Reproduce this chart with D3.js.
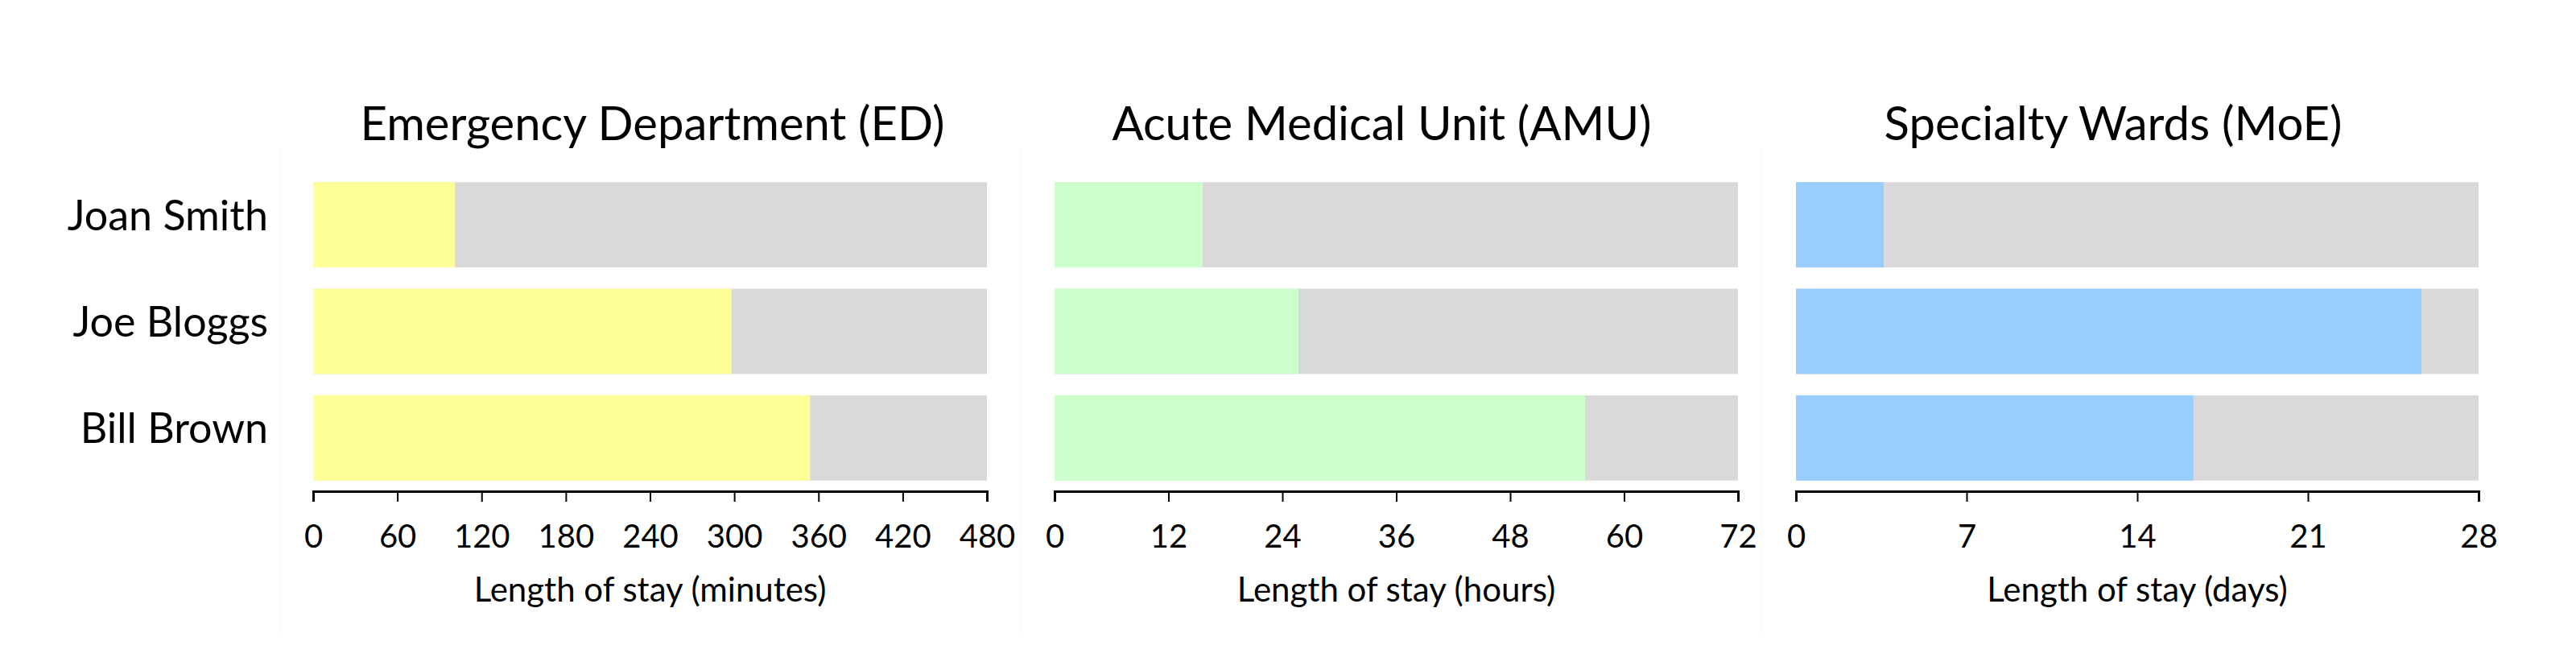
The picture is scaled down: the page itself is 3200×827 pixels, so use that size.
<!DOCTYPE html>
<html>
<head>
<meta charset="utf-8">
<script src="https://cdn.jsdelivr.net/npm/d3@7"></script>
<style>
  html, body { margin: 0; padding: 0; background: #fff; }
  svg { display: block; }
  text { font-family: Lato, "Open Sans", sans-serif; fill: #000; }
</style>
</head>
<body>
<script>
// ---- Data ----
const patients = ["Joan Smith", "Joe Bloggs", "Bill Brown"];
const panelTitles = ["Emergency Department (ED)", "Acute Medical Unit (AMU)", "Specialty Wards (MoE)"];
const axisTitles = ["Length of stay (minutes)", "Length of stay (hours)", "Length of stay (days)"];
const edMinutes = [101, 298, 354];
const amuHours = [15.6, 25.7, 55.9];
const moeDays = [3.6, 25.65, 16.3];
const edTicks = [0, 60, 120, 180, 240, 300, 360, 420, 480];
const amuTicks = [0, 12, 24, 36, 48, 60, 72];
const moeTicks = [0, 7, 14, 21, 28];
const panelColors = ["#ffff99", "#ccffcc", "#99ccff"];
const remainderColor = "#d9d9d9";

// ---- Layout ----
const W = 3200, H = 827;
const panels = [
  { values: edMinutes, ticks: edTicks, range: [389, 1226], titleShift: 3 },
  { values: amuHours, ticks: amuTicks, range: [1310, 2159], titleShift: -18 },
  { values: moeDays, ticks: moeTicks, range: [2231, 3079], titleShift: -30 }
];
const axisY = 610;

const svg = d3.select("body").append("svg")
  .attr("width", W).attr("height", H);

// faint dotted panel separators
[348, 1268, 2189].forEach(x => {
  svg.append("line")
    .attr("x1", x).attr("x2", x).attr("y1", 185).attr("y2", 789)
    .attr("stroke", "#e4e4e4").attr("stroke-width", 1)
    .attr("stroke-dasharray", "1,3");
});

const y = d3.scaleBand().domain(patients).range([213, axisY])
  .paddingInner(0.2).paddingOuter(0.1);

panels.forEach((p, i) => {
  const max = p.ticks[p.ticks.length - 1];
  const x = d3.scaleLinear().domain([0, max]).range(p.range);
  const g = svg.append("g");

  // remainder (grey) bars
  g.selectAll("rect.bg").data(patients).join("rect")
    .attr("class", "bg")
    .attr("x", x(0)).attr("y", d => y(d))
    .attr("width", x(max) - x(0)).attr("height", y.bandwidth())
    .attr("fill", remainderColor);

  // value bars
  g.selectAll("rect.val").data(p.values).join("rect")
    .attr("class", "val")
    .attr("x", x(0)).attr("y", (d, j) => y(patients[j]))
    .attr("width", d => x(d) - x(0)).attr("height", y.bandwidth())
    .attr("fill", panelColors[i]);

  // axis
  const ax = g.append("g").attr("transform", `translate(0,${axisY})`)
    .call(d3.axisBottom(x).tickValues(p.ticks).tickFormat(d3.format("d"))
      .tickSize(13).tickSizeOuter(13));
  ax.select(".domain").attr("stroke", "#000").attr("stroke-width", 3);
  ax.selectAll(".tick line").attr("stroke", "#000").attr("stroke-width", 2);
  ax.selectAll(".tick text")
    .attr("y", 70).attr("dy", null)
    .style("font-family", "Lato, sans-serif")
    .style("font-size", "40px").attr("fill", "#000");

  const cx = (p.range[0] + p.range[1]) / 2;
  // axis title
  g.append("text")
    .attr("x", cx).attr("y", 747)
    .attr("text-anchor", "middle")
    .style("font-size", "42px")
    .text(axisTitles[i]);

  // panel title
  g.append("text")
    .attr("x", cx + p.titleShift).attr("y", 174)
    .attr("text-anchor", "middle")
    .style("font-size", "58px")
    .text(panelTitles[i]);

  // category labels on first panel
  if (i === 0) {
    g.selectAll("text.name").data(patients).join("text")
      .attr("class", "name")
      .attr("x", x(0) - 56)
      .attr("y", d => y(d) + y.bandwidth() / 2 + 6.5)
      .attr("text-anchor", "end")
      .style("font-size", "52px")
      .text(d => d);
  }
});
</script>
</body>
</html>
